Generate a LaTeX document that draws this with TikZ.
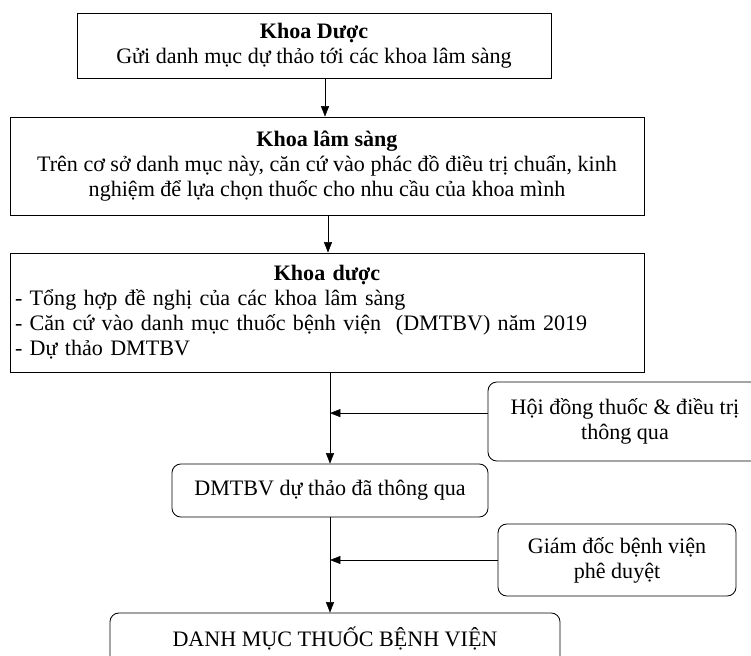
\documentclass[tikz,border=0pt]{standalone}
\usepackage{fontspec}
\setmainfont{Liberation Serif}
\usepackage{tikz}
\usetikzlibrary{shapes,positioning,arrows.meta}
\tikzset{rec/.style={rectangle,draw,line width=0.6pt,align=center,inner sep=0.125cm,font=\fontsize{15.7}{17.8}\selectfont}}
\tikzset{rrec/.style={rec,rounded corners=0.22cm}}

\begin{document}
\begin{tikzpicture}[>={Triangle[length=0.26cm,width=0.2cm]}]
    \path[use as bounding box,clip] (0,0) rectangle (18.775,-16.375);

    \node[rec,minimum width=11.85cm,minimum height=1.625cm] (kd1)at (7.85,-1.1375) {\textbf{Khoa Dược}\\Gửi danh mục dự thảo tới các khoa lâm sàng};
    \node[rec,minimum width=15.85cm,minimum height=2.45cm] (kls)at (8.175,-4.15) {\textbf{Khoa lâm sàng}\\Trên cơ sở danh mục này, căn cứ vào phác đồ điều trị chuẩn, kinh\\nghiệm để lựa chọn thuốc cho nhu cầu của khoa mình};
    \node[rec,text width=15.6cm,align=left,minimum height=2.975cm] (kd2)at (8.175,-7.8125) {\makebox[15.6cm]{\textbf{Khoa dược}}\\- Tổng hợp đề nghị của các khoa lâm sàng\\- Căn cứ vào danh mục thuốc bệnh viện \ (DMTBV) năm 2019\\- Dự thảo DMTBV};
    \node[rrec,minimum width=6.85cm,minimum height=1.975cm] (hd)at (15.625,-10.5375) {Hội đồng thuốc \& điều trị\\thông qua};
    \node[rrec,minimum width=7.9cm,minimum height=1.325cm] (dt)at (8.25,-12.2625) {DMTBV dự thảo đã thông qua};
    \node[rrec,minimum width=5.95cm,minimum height=1.8cm] (gd)at (15.425,-14.0) {Giám đốc bệnh viện\\phê duyệt};
    \node[rrec,minimum width=11.25cm,minimum height=1.3cm] (dm)at (8.375,-15.975) {DANH MỤC THUỐC BỆNH VIỆN};

    \coordinate (c1)at (8.125,0);
    \coordinate (c2)at (8.2,0);
    \coordinate (spine)at (8.25,0);

    \draw [->] (kd1.south -| c1) to (kls.north -| c1);
    \draw [->] (kls.south -| c2) to (kd2.north -| c2);
    \draw [->] (kd2.south -| spine) to (dt.north -| spine);
    \draw [->] ([yshift=0.21cm]hd.west) to ([yshift=0.21cm]hd.west -| spine);
    \draw [->] (dt.south -| spine) to (dm.north -| spine);
    \draw [->] (gd.west) to (gd.west -| spine);
\end{tikzpicture}
\end{document}
